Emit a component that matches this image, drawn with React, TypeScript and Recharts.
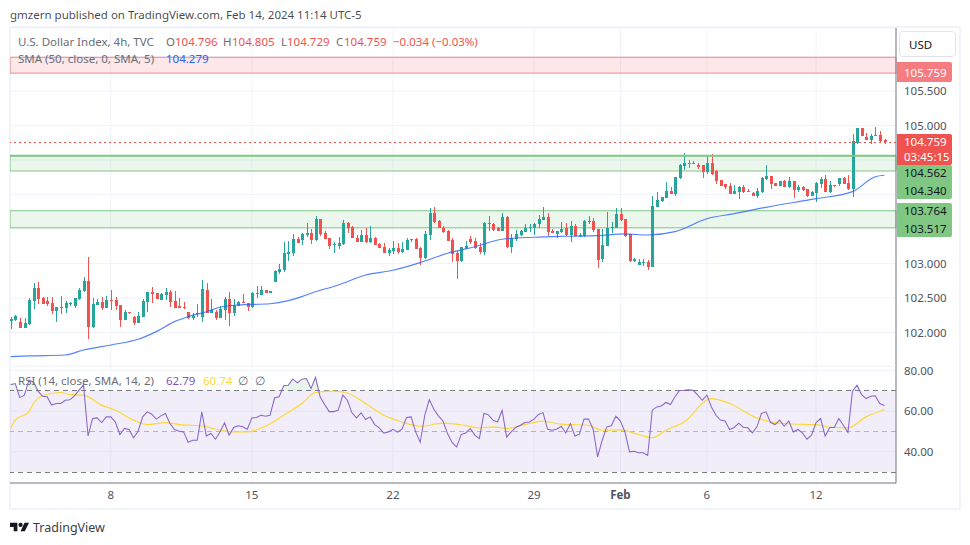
import React from "react";
import { Area, Bar, CartesianGrid, ComposedChart, Line, ReferenceArea, ReferenceLine, XAxis, YAxis } from "recharts";

// 4h candles
const opens = [
  102.167, 102.181, 102.152, 102.065, 102.123, 102.456, 102.645, 102.5, 102.456, 102.427, 102.312, 102.37, 102.355, 102.413, 102.384, 102.485,
  102.601, 102.746, 102.08, 102.399, 102.442, 102.355, 102.471, 102.471, 102.399, 102.181, 102.297, 102.225, 102.138, 102.225, 102.442, 102.587,
  102.572, 102.471, 102.543, 102.587, 102.456, 102.384, 102.37, 102.297, 102.21, 102.283, 102.225, 102.616, 102.283, 102.297, 102.21, 102.326,
  102.485, 102.283, 102.384, 102.442, 102.427, 102.37, 102.558, 102.543, 102.616, 102.572, 102.732, 102.877, 102.906, 103.138, 103.152, 103.355,
  103.341, 103.413, 103.442, 103.341, 103.645, 103.442, 103.37, 103.268, 103.254, 103.283, 103.587, 103.529, 103.37, 103.312, 103.413, 103.312,
  103.37, 103.283, 103.239, 103.152, 103.181, 103.225, 103.167, 103.196, 103.341, 103.355, 103.225, 103.08, 103.413, 103.732, 103.616, 103.515,
  103.471, 103.341, 103.152, 103.036, 103.21, 103.355, 103.326, 103.239, 103.167, 103.587, 103.573, 103.515, 103.471, 103.674, 103.239, 103.355,
  103.413, 103.457, 103.515, 103.515, 103.573, 103.631, 103.674, 103.471, 103.428, 103.457, 103.515, 103.413, 103.544, 103.399, 103.399, 103.602,
  103.616, 103.5, 103.065, 103.253, 103.515, 103.515, 103.717, 103.645, 103.427, 103.036, 102.978, 103.007, 103.022, 102.949, 103.819, 103.906,
  103.949, 104.051, 104.007, 104.239, 104.413, 104.456, 104.456, 104.428, 104.428, 104.326, 104.456, 104.341, 104.21, 104.152, 104.123, 104.007,
  104.036, 104.109, 104.051, 104.022, 103.978, 104.036, 104.225, 104.268, 104.167, 104.123, 104.196, 104.109, 104.196, 104.065, 104.109, 104.08,
  103.978, 104.022, 104.152, 104.225, 104.036, 104.138, 104.152, 104.239, 104.167, 104.08, 104.746, 104.964, 104.833, 104.79, 104.848, 104.862,
  104.796,
];
const highs = [
  102.229, 102.254, 102.21, 102.21, 102.5, 102.717, 102.732, 102.514, 102.514, 102.514, 102.37, 102.529, 102.456, 102.442, 102.5, 102.645,
  102.804, 103.094, 102.5, 102.485, 102.514, 102.529, 102.616, 102.514, 102.399, 102.326, 102.297, 102.239, 102.297, 102.485, 102.587, 102.659,
  102.572, 102.572, 102.645, 102.616, 102.601, 102.5, 102.442, 102.297, 102.283, 102.413, 102.761, 102.717, 102.485, 102.326, 102.384, 102.514,
  102.587, 102.485, 102.456, 102.558, 102.427, 102.587, 102.674, 102.674, 102.616, 102.601, 102.906, 102.993, 103.312, 103.326, 103.428, 103.384,
  103.442, 103.587, 103.5, 103.688, 103.645, 103.471, 103.37, 103.312, 103.384, 103.631, 103.602, 103.544, 103.413, 103.486, 103.515, 103.544,
  103.384, 103.297, 103.297, 103.225, 103.326, 103.297, 103.312, 103.37, 103.355, 103.37, 103.239, 103.471, 103.805, 103.819, 103.631, 103.544,
  103.486, 103.37, 103.181, 103.239, 103.326, 103.399, 103.37, 103.297, 103.602, 103.688, 103.587, 103.529, 103.732, 103.688, 103.428, 103.486,
  103.486, 103.573, 103.573, 103.587, 103.703, 103.819, 103.732, 103.5, 103.471, 103.602, 103.587, 103.616, 103.573, 103.442, 103.631, 103.688,
  103.659, 103.5, 103.5, 103.746, 103.601, 103.804, 103.804, 103.645, 103.427, 103.08, 103.065, 103.065, 103.051, 103.978, 104.036, 103.964,
  104.181, 104.109, 104.254, 104.442, 104.601, 104.5, 104.485, 104.456, 104.428, 104.572, 104.587, 104.355, 104.21, 104.152, 104.167, 104.138,
  104.123, 104.138, 104.08, 104.036, 104.094, 104.254, 104.428, 104.268, 104.167, 104.196, 104.21, 104.254, 104.196, 104.138, 104.123, 104.08,
  104.051, 104.181, 104.254, 104.283, 104.196, 104.138, 104.239, 104.254, 104.283, 104.877, 104.964, 104.964, 104.891, 104.877, 104.978, 104.92,
  104.805,
];
const lows = [
  102.051, 102.16, 102.065, 102.065, 102.109, 102.341, 102.413, 102.413, 102.384, 102.268, 102.152, 102.268, 102.283, 102.384, 102.355, 102.471,
  102.587, 101.906, 102.065, 102.399, 102.326, 102.355, 102.326, 102.326, 102.08, 102.181, 102.268, 102.109, 102.138, 102.225, 102.297, 102.427,
  102.485, 102.471, 102.471, 102.37, 102.355, 102.355, 102.341, 102.196, 102.181, 102.225, 102.152, 102.283, 102.283, 102.181, 102.21, 102.181,
  102.094, 102.239, 102.384, 102.427, 102.312, 102.355, 102.5, 102.543, 102.572, 102.572, 102.732, 102.848, 102.877, 103.036, 103.109, 103.297,
  103.268, 103.384, 103.283, 103.326, 103.399, 103.355, 103.21, 103.152, 103.21, 103.268, 103.442, 103.37, 103.312, 103.312, 103.297, 103.297,
  103.268, 103.225, 103.152, 103.109, 103.138, 103.138, 103.152, 103.196, 103.312, 103.21, 102.978, 103.065, 103.341, 103.587, 103.515, 103.442,
  103.326, 103.022, 102.775, 103.022, 103.21, 103.283, 103.21, 103.138, 103.123, 103.471, 103.471, 103.471, 103.471, 103.225, 103.152, 103.326,
  103.399, 103.457, 103.457, 103.413, 103.515, 103.631, 103.399, 103.442, 103.37, 103.442, 103.399, 103.312, 103.399, 103.384, 103.384, 103.573,
  103.457, 102.935, 103.022, 103.253, 103.442, 103.515, 103.616, 103.384, 103.022, 103.022, 102.978, 102.964, 102.906, 102.949, 103.819, 103.891,
  103.949, 104.007, 103.978, 104.225, 104.355, 104.384, 104.442, 104.37, 104.239, 104.297, 104.283, 104.152, 104.123, 104.08, 104.007, 104.007,
  103.935, 104.022, 104.036, 103.978, 103.949, 104.022, 104.21, 104.08, 104.123, 104.123, 104.109, 104.094, 103.949, 104.036, 104.051, 103.964,
  103.978, 103.891, 104.094, 104.036, 104.022, 104.109, 104.123, 104.152, 104.065, 103.964, 104.732, 104.848, 104.79, 104.732, 104.848, 104.746,
  104.729,
];
const closes = [
  102.196, 102.239, 102.065, 102.138, 102.471, 102.645, 102.485, 102.413, 102.413, 102.312, 102.37, 102.355, 102.427, 102.427, 102.5, 102.616,
  102.746, 102.08, 102.413, 102.442, 102.355, 102.471, 102.456, 102.384, 102.181, 102.297, 102.283, 102.138, 102.239, 102.456, 102.587, 102.558,
  102.485, 102.558, 102.587, 102.442, 102.355, 102.355, 102.355, 102.21, 102.239, 102.268, 102.63, 102.283, 102.326, 102.21, 102.341, 102.485,
  102.283, 102.399, 102.442, 102.427, 102.37, 102.572, 102.572, 102.616, 102.572, 102.601, 102.891, 102.921, 103.152, 103.167, 103.355, 103.297,
  103.428, 103.442, 103.341, 103.645, 103.428, 103.355, 103.254, 103.283, 103.297, 103.587, 103.515, 103.37, 103.312, 103.413, 103.312, 103.37,
  103.268, 103.225, 103.152, 103.196, 103.225, 103.167, 103.21, 103.341, 103.355, 103.21, 103.08, 103.428, 103.732, 103.602, 103.515, 103.457,
  103.326, 103.138, 103.036, 103.239, 103.254, 103.312, 103.225, 103.167, 103.587, 103.573, 103.486, 103.471, 103.674, 103.239, 103.37, 103.428,
  103.471, 103.515, 103.529, 103.573, 103.645, 103.674, 103.457, 103.442, 103.471, 103.5, 103.413, 103.544, 103.399, 103.413, 103.616, 103.616,
  103.486, 103.051, 103.268, 103.515, 103.529, 103.717, 103.63, 103.398, 103.036, 103.065, 103.022, 103.022, 102.949, 103.833, 103.92, 103.964,
  104.051, 104.007, 104.254, 104.428, 104.456, 104.442, 104.442, 104.399, 104.326, 104.456, 104.297, 104.196, 104.123, 104.109, 104.007, 104.051,
  104.109, 104.036, 104.036, 103.978, 104.051, 104.239, 104.268, 104.152, 104.123, 104.196, 104.109, 104.196, 104.065, 104.109, 104.065, 103.978,
  104.036, 104.167, 104.225, 104.036, 104.138, 104.123, 104.239, 104.152, 104.08, 104.775, 104.964, 104.848, 104.79, 104.848, 104.862, 104.775,
  104.759,
];

// SMA read at a handful of candles, the line joins them
const smaCandles = [0, 4, 12, 16, 22, 28, 32, 36, 39, 43, 46, 50, 57, 61, 64, 66, 72, 78, 84, 90, 96, 102, 108, 115, 122, 129, 135, 140, 146, 153, 159, 166, 177, 185, 190, 192];
const smaValues = [101.649, 101.66, 101.674, 101.746, 101.819, 101.901, 102.012, 102.157, 102.229, 102.301, 102.365, 102.399, 102.417, 102.461, 102.519, 102.568, 102.688, 102.833, 102.901, 103.012, 103.148, 103.243, 103.351, 103.38, 103.394, 103.403, 103.428, 103.413, 103.461, 103.649, 103.722, 103.814, 103.939, 104.041, 104.258, 104.279];

const rsiValues = [
  73.1, 73.6, 66.7, 67.9, 75.3, 74.4, 69.9, 67.4, 67.1, 63.0, 63.8, 63.8, 65.4, 65.6, 67.6, 70.3, 73.1, 47.8, 56.4, 56.7, 54.4, 57.2, 57.2, 54.7,
  48.5, 51.5, 51.0, 46.9, 50.1, 57.2, 59.7, 58.5, 56.1, 57.7, 58.9, 53.9, 51.0, 50.1, 49.8, 44.7, 45.7, 45.7, 59.7, 47.8, 49.0, 46.2, 49.8, 54.3,
  48.2, 52.0, 52.8, 52.3, 51.1, 56.7, 56.9, 58.0, 57.5, 58.0, 66.6, 67.1, 72.5, 72.8, 75.9, 74.0, 75.8, 76.1, 71.2, 76.7, 67.1, 63.3, 59.8, 59.8,
  60.5, 67.9, 65.4, 59.2, 56.7, 59.2, 55.9, 57.2, 53.4, 51.8, 49.2, 49.8, 51.1, 49.7, 51.1, 56.9, 57.2, 49.8, 44.7, 58.0, 65.7, 61.0, 57.7, 55.2,
  49.0, 44.6, 42.3, 48.5, 49.3, 51.5, 48.2, 46.5, 58.9, 58.2, 55.6, 54.7, 60.5, 47.2, 49.8, 52.0, 53.1, 54.4, 54.7, 56.1, 58.4, 59.3, 51.1, 50.6,
  51.1, 52.6, 49.3, 53.9, 47.8, 48.7, 56.1, 56.2, 51.1, 37.5, 45.7, 52.3, 52.8, 57.5, 55.1, 49.8, 40.0, 40.3, 39.5, 39.5, 38.2, 60.5, 62.1, 62.6,
  64.3, 63.3, 67.1, 70.2, 70.3, 70.5, 70.3, 67.9, 65.4, 67.9, 62.1, 58.0, 55.6, 55.2, 51.0, 52.0, 54.1, 52.1, 51.8, 49.3, 52.3, 58.9, 59.7, 54.4,
  53.4, 55.6, 52.6, 55.2, 49.8, 51.0, 49.3, 46.2, 48.2, 54.4, 56.4, 47.8, 52.0, 52.0, 56.4, 53.1, 49.5, 69.9, 72.8, 68.2, 66.2, 67.4, 67.6, 63.8,
  62.79,
];

const rsiMaCandles = [0, 1, 4, 5, 7, 11, 13, 16, 20, 23, 27, 30, 34, 37, 42, 46, 49, 52, 56, 60, 64, 67, 71, 74, 78, 82, 86, 90, 95, 100, 103, 106, 109, 113, 117, 121, 127, 130, 134, 138, 141, 144, 148, 154, 158, 164, 168, 171, 178, 180, 184, 188, 192];
const rsiMaValues = [51.5, 55.6, 59.7, 63.8, 67.6, 69.2, 68.2, 67.9, 63.0, 60.5, 55.6, 53.4, 54.4, 53.4, 52.8, 50.6, 49.8, 49.8, 52.6, 58.0, 63.8, 69.2, 69.9, 69.0, 63.8, 58.0, 54.7, 52.6, 54.1, 52.9, 51.8, 52.3, 51.5, 53.4, 55.1, 53.6, 53.1, 50.6, 50.8, 48.5, 46.9, 50.6, 54.7, 66.2, 63.8, 56.7, 54.4, 53.8, 53.1, 52.1, 51.8, 57.2, 60.74];

const priceTicks = [102, 102.5, 103, 103.5, 104, 104.5, 105, 105.5, 106];
// the other price labels sit behind the tags and the USD button
const priceLabelled = [102, 102.5, 103, 105, 105.5];
const rsiTicks = [40, 60, 80];
const dateCandles = [22, 53, 84, 115, 134, 153, 177];
const dateLabels = ["8", "15", "22", "29", "Feb", "6", "12"];

const UP = "#26a69a";
const DOWN = "#ef5350";
const GRID = "#f0f3fa";
const TEXT = "#6a6d78";
const AXIS = "#787b86";
const FONT = "'Noto Sans', sans-serif";
const FS = 11.5;

const rows = opens.map((o, i) => {
  const s = smaCandles.indexOf(i);
  const m = rsiMaCandles.indexOf(i);
  return {
    i,
    open: o,
    high: highs[i],
    low: lows[i],
    close: closes[i],
    range: [lows[i], highs[i]],
    sma: s >= 0 ? smaValues[s] : null,
    rsi: rsiValues[i],
    rsiMa: m >= 0 ? rsiMaValues[m] : null,
    rsiOver: [70, Math.max(rsiValues[i], 70)],
  };
});

function Candle(props: any) {
  const { x, y, width, height, payload } = props;
  const { open, high, low, close } = payload;
  const k = height / (high - low);
  const color = close >= open ? UP : DOWN;
  const cx = Math.round(x + width / 2);
  const top = y + (high - Math.max(open, close)) * k;
  const bodyH = Math.max(Math.abs(open - close) * k, 1);
  return (
    <g shapeRendering="crispEdges">
      <rect x={cx} y={y} width={1} height={height} fill={color} />
      <rect x={cx - 1} y={top} width={3} height={bodyH} fill={color} />
    </g>
  );
}

function DateTick(props: any) {
  const { x, y, payload } = props;
  const idx = dateCandles.indexOf(payload.value);
  const label = dateLabels[idx];
  return (
    <text x={x} y={y + 8} textAnchor="middle" fontFamily={FONT} fontSize={FS} fontWeight={label === "Feb" ? 700 : 400} fill="#50535e">
      {label}
    </text>
  );
}

function Txt({ x, y, color = TEXT, size = FS, children }: any) {
  return (
    <span style={{ position: "absolute", left: x, top: y - 9, height: 18, lineHeight: "18px", fontSize: size, color, whiteSpace: "nowrap" }}>
      {children}
    </span>
  );
}

function Tag({ top, height, bg, color, lines }: any) {
  return (
    <div
      style={{
        position: "absolute",
        left: 897,
        top,
        width: 55,
        height,
        background: bg,
        borderRadius: "0 2px 2px 0",
        color,
        fontSize: FS,
      }}
    >
      {lines.map((l: any) => (
        <span key={l.t} style={{ position: "absolute", left: 7, top: l.y - top - 9, lineHeight: "18px" }}>
          {l.t}
        </span>
      ))}
    </div>
  );
}

export default function App() {
  const xDomain = [-0.154, 194.57];
  return (
    <div style={{ position: "absolute", left: 0, top: 0, width: 970, height: 545, background: "#fff", fontFamily: FONT, overflow: "hidden" }}>
      {/* frame */}
      <div style={{ position: "absolute", left: 9, top: 26, width: 952, height: 484, border: "2px solid #f0f3fa", boxSizing: "border-box" }} />

      <div style={{ position: "absolute", left: 10, top: 28 }}>
        <ComposedChart width={950} height={338} data={rows} margin={{ top: 0, right: 0, bottom: 0, left: 0 }}>
          <CartesianGrid stroke={GRID} />
          <XAxis dataKey="i" type="number" domain={xDomain} ticks={dateCandles} interval={0} allowDataOverflow hide />
          <YAxis
            orientation="right"
            width={64}
            domain={[101.514, 106.413]}
            ticks={priceTicks}
            interval={0}
            allowDataOverflow
            stroke={AXIS}
            tickSize={0}
            tickMargin={8}
            tick={{ fontSize: FS, fill: "#50535e", fontFamily: FONT }}
            tickFormatter={(v: number) => (priceLabelled.includes(v) ? v.toFixed(3) : "")}
          />
          <ReferenceArea y1={105.759} y2={105.988} fill="#f23645" fillOpacity={0.12} stroke="#f08a8a" strokeWidth={1} />
          <ReferenceArea y1={104.34} y2={104.562} fill="#4caf50" fillOpacity={0.11} stroke="#81c784" strokeWidth={1} />
          <ReferenceArea y1={103.517} y2={103.764} fill="#4caf50" fillOpacity={0.11} stroke="#81c784" strokeWidth={1} />
          <ReferenceLine y={104.562} stroke="#81c784" strokeWidth={2} />
          <ReferenceLine y={104.759} stroke={DOWN} strokeDasharray="2 3" shapeRendering="crispEdges" />
          <Bar dataKey="range" barSize={3} shape={Candle} isAnimationActive={false} />
          <Line dataKey="sma" stroke="#2962ff" strokeWidth={1.15} strokeOpacity={0.8} type="monotone" dot={false} connectNulls isAnimationActive={false} />
        </ComposedChart>
      </div>

      <div style={{ position: "absolute", left: 10, top: 356 }}>
        <ComposedChart width={950} height={154} data={rows} margin={{ top: 10, right: 0, bottom: 0, left: 0 }}>
          <CartesianGrid stroke={GRID} />
          <XAxis
            dataKey="i"
            type="number"
            domain={xDomain}
            ticks={dateCandles}
            interval={0}
            allowDataOverflow
            height={27}
            stroke={AXIS}
            tickLine={false}
            tick={DateTick}
          />
          <YAxis
            orientation="right"
            width={64}
            domain={[24.63, 82.27]}
            ticks={rsiTicks}
            interval={0}
            allowDataOverflow
            stroke={AXIS}
            tickSize={0}
            tickMargin={8}
            tick={{ fontSize: FS, fill: "#50535e", fontFamily: FONT }}
            tickFormatter={(v: number) => v.toFixed(2)}
          />
          <ReferenceArea y1={30} y2={70} fill="#7e57c2" fillOpacity={0.1} stroke="none" />
          <ReferenceLine y={70} stroke={AXIS} strokeDasharray="5 4" shapeRendering="crispEdges" />
          <ReferenceLine y={50} stroke="#b2b5be" strokeDasharray="5 4" shapeRendering="crispEdges" />
          <ReferenceLine y={30} stroke={AXIS} strokeDasharray="5 4" shapeRendering="crispEdges" />
          <Area dataKey="rsiOver" stroke="none" fill="#4caf50" fillOpacity={0.12} type="linear" isAnimationActive={false} />
          <Line dataKey="rsiMa" stroke="#fdd835" strokeWidth={1.15} type="monotone" dot={false} connectNulls isAnimationActive={false} />
          <Line dataKey="rsi" stroke="#7e57c2" strokeWidth={1.05} strokeOpacity={0.9} type="linear" dot={false} isAnimationActive={false} />
        </ComposedChart>
      </div>

      {/* header and legends */}
      <Txt x={10} y={15} color="#131722cc">gmzern published on TradingView.com, Feb 14, 2024 11:14 UTC-5</Txt>
      <Txt x={18} y={42}>U.S. Dollar Index, 4h, TVC</Txt>
      <Txt x={166} y={42}>O</Txt>
      <Txt x={175} y={42} color={DOWN}>104.796</Txt>
      <Txt x={223} y={42}>H</Txt>
      <Txt x={232} y={42} color={DOWN}>104.805</Txt>
      <Txt x={281} y={42}>L</Txt>
      <Txt x={287} y={42} color={DOWN}>104.729</Txt>
      <Txt x={336} y={42}>C</Txt>
      <Txt x={344} y={42} color={DOWN}>104.759</Txt>
      <Txt x={393} y={42} color={DOWN}>−0.034 (−0.03%)</Txt>
      <Txt x={18} y={59}>SMA (50, close, 0, SMA, 5)</Txt>
      <Txt x={166} y={59} color="#2962ff">104.279</Txt>
      <Txt x={18} y={381}>RSI (14, close, SMA, 14, 2)</Txt>
      <Txt x={166} y={381} color="#7e57c2">62.79</Txt>
      <Txt x={203} y={381} color="#fdd835">60.74</Txt>
      <Txt x={238} y={381}>∅</Txt>
      <Txt x={255} y={381}>∅</Txt>

      {/* price scale tags */}
      <div
        style={{
          position: "absolute",
          left: 899,
          top: 31,
          width: 57,
          height: 26,
          boxSizing: "border-box",
          border: "1px solid #e0e3eb",
          borderRadius: 4,
          background: "#fff",
          fontSize: FS,
          color: "#131722",
          lineHeight: "26px",
          paddingLeft: 9,
        }}
      >
        USD
      </div>
      <Tag top={62} height={20} bg="#f77c80" color="#fff" lines={[{ t: "105.759", y: 73 }]} />
      <Tag top={134} height={31} bg={DOWN} color="#fff" lines={[{ t: "104.759", y: 142 }, { t: "03:45:15", y: 157 }]} />
      <Tag top={165} height={34} bg="#81c784" color="#131722" lines={[{ t: "104.562", y: 173 }, { t: "104.340", y: 191 }]} />
      <Tag top={203} height={34} bg="#81c784" color="#131722" lines={[{ t: "103.764", y: 211 }, { t: "103.517", y: 229 }]} />

      {/* logo */}
      <svg style={{ position: "absolute", left: 10, top: 522 }} width={19} height={10} viewBox="0 6 36 16">
        <path d="M14 6H0v8h7v8h7V6Zm14 16h-8l7.5-16H36l-8 16Z" fill="#131722" />
        <circle cx={20} cy={10} r={4} fill="#131722" />
      </svg>
      <Txt x={33} y={528} color="#3c3f48" size={12.5}>TradingView</Txt>
    </div>
  );
}
